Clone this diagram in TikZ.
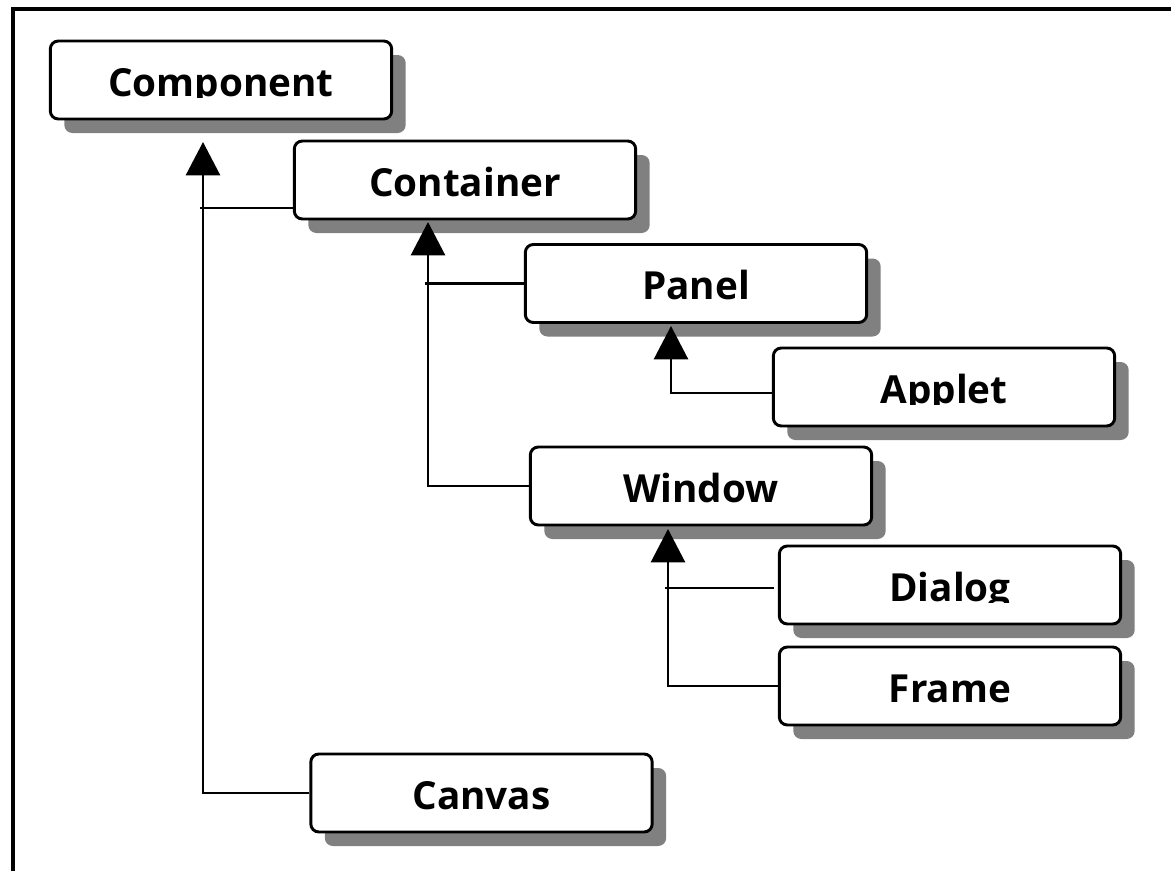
\documentclass[tikz,border=0pt]{standalone}
\usepackage{fontspec}
\setmainfont{Open Sans}
\usetikzlibrary{arrows.meta,shadows}
\tikzset{
  cbox/.style={draw=black, line width=2.2pt, fill=white, rounded corners=6pt,
    minimum width=256pt, minimum height=58.5pt, inner sep=0pt,
    drop shadow={shadow xshift=10.5pt, shadow yshift=-10.5pt, fill=black!50, opacity=1}},
  ctext/.style={font=\fontsize{29}{34}\selectfont\bfseries, inner sep=0pt, anchor=base},
  ln/.style={line width=2pt, black},
  arr/.style={line width=2pt, black, -{Triangle[width=25.5pt,length=25pt]}},
  outer/.style={line width=2.4pt, black}
}
\newcommand\umlclass[4]{%
  \node[cbox] (#1) at (#2,#3) {};
  \begin{scope}
    \clip ({#2-168},{#3-37}) rectangle ({#2+168},{#3+17.5});
    \node[ctext] (#1-t) at ({#2},{#3+16}) {#4};
  \end{scope}
}
\begin{document}
\begin{tikzpicture}[x=0.75pt, y=-0.75pt]
\useasboundingbox (0,0) rectangle (1171,871);
\fill[white] (0,0) rectangle (1171,871);
% outer frame (left and top edges)
\draw[outer] (13,871) -- (13,9) -- (1171,9);

\umlclass{comp}{221}{80}{Component}
\umlclass{cont}{465}{180}{Container}
\umlclass{panel}{696}{283.5}{Panel}
\umlclass{applet}{944}{387}{Applet}
\umlclass{window}{701}{486}{Window}
\umlclass{dialog}{950}{585}{Dialog}
\umlclass{frame}{950}{686}{Frame}
\umlclass{canvas}{481.5}{793}{Canvas}

% junction coordinates and arrow tips
\coordinate (tipA) at (203,142);
\coordinate (jA) at (203,208);
\coordinate (tipB) at (428,222);
\coordinate (tipC) at (671,326);
\coordinate (jC) at (671,393);
\coordinate (tipD) at (668,529);
\coordinate (jD) at (668,588);

% Component <- Container, Canvas
\draw[arr] (canvas.west) -| (tipA);
\draw[ln] (cont.west |- jA) -- ([xshift=-2pt]jA);
% Container <- Panel, Window
\draw[arr] (window.west) -| (tipB);
\draw[ln] (panel.west) -- ([xshift=-2pt]panel.west -| tipB);
% Panel <- Applet
\draw[arr] (applet.west |- jC) -- (jC) -- (tipC);
% Window <- Dialog, Frame
\draw[arr] (frame.west) -| (tipD);
\draw[ln] ([xshift=-3pt]dialog.west |- jD) -- ([xshift=-2pt]jD);
\end{tikzpicture}
\end{document}
